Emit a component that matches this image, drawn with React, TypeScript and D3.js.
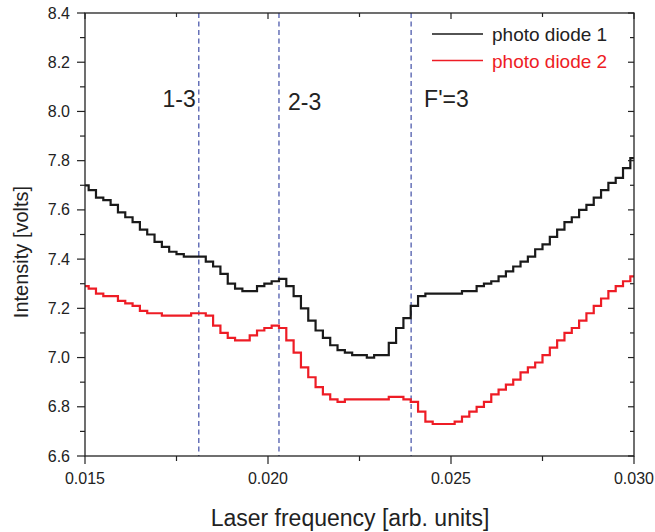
import React from "react";
import * as d3 from "d3";

// Laser frequency samples (arb. units)
const freq = [
  0.0150, 0.0152, 0.0154, 0.0156, 0.0158, 0.0160, 0.0162, 0.0164, 0.0166, 0.0168,
  0.0170, 0.0172, 0.0174, 0.0176, 0.0178, 0.0180, 0.0182, 0.0184, 0.0186, 0.0188,
  0.0190, 0.0192, 0.0194, 0.0196, 0.0198, 0.0200, 0.0202, 0.0204, 0.0206, 0.0208,
  0.0210, 0.0212, 0.0214, 0.0216, 0.0218, 0.0220, 0.0222, 0.0224, 0.0226, 0.0228,
  0.0230, 0.0232, 0.0234, 0.0236, 0.0238, 0.0240, 0.0242, 0.0244, 0.0246, 0.0248,
  0.0250, 0.0252, 0.0254, 0.0256, 0.0258, 0.0260, 0.0262, 0.0264, 0.0266, 0.0268,
  0.0270, 0.0272, 0.0274, 0.0276, 0.0278, 0.0280, 0.0282, 0.0284, 0.0286, 0.0288,
  0.0290, 0.0292, 0.0294, 0.0296, 0.0298, 0.0300,
];

// Photo diode 1 intensity (volts)
const diode1 = [
  7.70, 7.68, 7.65, 7.64, 7.62, 7.59, 7.57, 7.55, 7.52, 7.50,
  7.47, 7.45, 7.43, 7.42, 7.41, 7.41, 7.41, 7.39, 7.37, 7.34,
  7.30, 7.28, 7.27, 7.27, 7.29, 7.30, 7.31, 7.32, 7.29, 7.25,
  7.20, 7.15, 7.11, 7.08, 7.05, 7.03, 7.02, 7.01, 7.01, 7.00,
  7.01, 7.01, 7.06, 7.12, 7.16, 7.21, 7.25, 7.26, 7.26, 7.26,
  7.26, 7.26, 7.27, 7.27, 7.29, 7.30, 7.31, 7.33, 7.35, 7.37,
  7.39, 7.41, 7.44, 7.46, 7.49, 7.52, 7.55, 7.57, 7.60, 7.62,
  7.65, 7.68, 7.71, 7.73, 7.77, 7.81,
];

// Photo diode 2 intensity (volts)
const diode2 = [
  7.29, 7.28, 7.26, 7.25, 7.25, 7.23, 7.22, 7.21, 7.19, 7.18,
  7.18, 7.17, 7.17, 7.17, 7.17, 7.18, 7.18, 7.17, 7.13, 7.10,
  7.08, 7.07, 7.07, 7.09, 7.11, 7.12, 7.13, 7.12, 7.07, 7.02,
  6.96, 6.92, 6.88, 6.85, 6.83, 6.82, 6.83, 6.83, 6.83, 6.83,
  6.83, 6.83, 6.84, 6.84, 6.83, 6.82, 6.78, 6.74, 6.73, 6.73,
  6.73, 6.74, 6.76, 6.78, 6.80, 6.82, 6.85, 6.87, 6.89, 6.91,
  6.94, 6.96, 6.98, 7.01, 7.04, 7.07, 7.10, 7.12, 7.15, 7.18,
  7.21, 7.24, 7.27, 7.29, 7.31, 7.33,
];

// Hyperfine transition markers
const markerFreq = [0.01811, 0.0203, 0.02391];
const markerLabels = ["1-3", "2-3", "F'=3"];

const seriesNames = ["photo diode 1", "photo diode 2"];
const seriesColors = ["#1a1a1a", "#ee1c25"];

const xMajor = [0.015, 0.02, 0.025, 0.03];
const xMinor = [0.0175, 0.0225, 0.0275];
const yMajor = [6.6, 6.8, 7.0, 7.2, 7.4, 7.6, 7.8, 8.0, 8.2, 8.4];
const yMinor = [6.7, 6.9, 7.1, 7.3, 7.5, 7.7, 7.9, 8.1, 8.3];

const W = 655;
const H = 532;
const plot = { left: 85, right: 634, top: 13, bottom: 456 };
const FONT = "'Liberation Sans', Arial, Helvetica, sans-serif";
const AXIS = "#222";

export default function App() {
  const x = d3.scaleLinear().domain([0.015, 0.03]).range([plot.left, plot.right]);
  const y = d3.scaleLinear().domain([6.6, 8.4]).range([plot.bottom, plot.top]);

  const line = d3
    .line<number>()
    .x((_, i) => x(freq[i]))
    .y((d) => y(d))
    .curve(d3.curveStep);

  const series = [diode1, diode2];

  // label offsets relative to each marker line: [dx, baseline y, anchor]
  const labelPos: [number, number, "start" | "end"][] = [
    [-3, 107, "end"],
    [9, 110, "start"],
    [13, 107, "start"],
  ];

  return (
    <svg
      width={W}
      height={H}
      style={{ position: "absolute", left: 0, top: 0, background: "#fff" }}
      fontFamily={FONT}
    >
      <defs>
        <clipPath id="plotClip">
          <rect
            x={plot.left}
            y={plot.top}
            width={plot.right - plot.left}
            height={plot.bottom - plot.top}
          />
        </clipPath>
      </defs>

      {/* marker lines */}
      {markerFreq.map((f, i) => (
        <line
          key={"m" + i}
          x1={x(f)}
          x2={x(f)}
          y1={plot.top}
          y2={plot.bottom}
          stroke="#2e3d9e"
          strokeWidth={1.1}
          strokeDasharray="5,3.5"
        />
      ))}

      {/* data */}
      <g clipPath="url(#plotClip)">
        {series.map((s, i) => (
          <path
            key={"s" + i}
            d={line(s) || ""}
            fill="none"
            stroke={seriesColors[i]}
            strokeWidth={2.2}
            strokeLinejoin="miter"
          />
        ))}
      </g>

      {/* frame */}
      <rect
        x={plot.left}
        y={plot.top}
        width={plot.right - plot.left}
        height={plot.bottom - plot.top}
        fill="none"
        stroke={AXIS}
        strokeWidth={1.3}
      />

      {/* bottom axis ticks (outward) and top ticks (inward) */}
      {xMajor.map((v) => (
        <g key={"xM" + v}>
          <line x1={x(v)} x2={x(v)} y1={plot.bottom} y2={plot.bottom + 8} stroke={AXIS} strokeWidth={1.2} />
          <line x1={x(v)} x2={x(v)} y1={plot.top} y2={plot.top + 6} stroke={AXIS} strokeWidth={1.2} />
          <text x={x(v)} y={484} textAnchor="middle" fontSize={16} fill={AXIS}>
            {d3.format(".3f")(v)}
          </text>
        </g>
      ))}
      {xMinor.map((v) => (
        <g key={"xm" + v}>
          <line x1={x(v)} x2={x(v)} y1={plot.bottom} y2={plot.bottom + 5} stroke={AXIS} strokeWidth={1.2} />
          <line x1={x(v)} x2={x(v)} y1={plot.top} y2={plot.top + 4} stroke={AXIS} strokeWidth={1.2} />
        </g>
      ))}

      {/* left axis ticks (outward) and right ticks (inward) */}
      {yMajor.map((v) => (
        <g key={"yM" + v}>
          <line x1={plot.left - 8} x2={plot.left} y1={y(v)} y2={y(v)} stroke={AXIS} strokeWidth={1.2} />
          <line x1={plot.right - 6} x2={plot.right} y1={y(v)} y2={y(v)} stroke={AXIS} strokeWidth={1.2} />
          <text x={70} y={y(v) + 5.5} textAnchor="end" fontSize={16} fill={AXIS}>
            {d3.format(".1f")(v)}
          </text>
        </g>
      ))}
      {yMinor.map((v) => (
        <g key={"ym" + v}>
          <line x1={plot.left - 5} x2={plot.left} y1={y(v)} y2={y(v)} stroke={AXIS} strokeWidth={1.2} />
          <line x1={plot.right - 4} x2={plot.right} y1={y(v)} y2={y(v)} stroke={AXIS} strokeWidth={1.2} />
        </g>
      ))}

      {/* axis titles */}
      <text x={350} y={526} textAnchor="middle" fontSize={23} fill={AXIS}>
        Laser frequency [arb. units]
      </text>
      <text
        transform="translate(28,252) rotate(-90)"
        textAnchor="middle"
        fontSize={20}
        fill={AXIS}
      >
        Intensity [volts]
      </text>

      {/* marker labels */}
      {markerFreq.map((f, i) => (
        <text
          key={"ml" + i}
          x={x(f) + labelPos[i][0]}
          y={labelPos[i][1]}
          textAnchor={labelPos[i][2]}
          fontSize={23}
          fill={AXIS}
        >
          {markerLabels[i]}
        </text>
      ))}

      {/* legend */}
      {seriesNames.map((name, i) => (
        <g key={"lg" + i}>
          <line
            x1={432}
            x2={483}
            y1={34 + i * 26.5}
            y2={34 + i * 26.5}
            stroke={seriesColors[i]}
            strokeWidth={1.6}
          />
          <text x={492} y={41 + i * 26.5} fontSize={19} fill={i === 0 ? AXIS : seriesColors[i]}>
            {name}
          </text>
        </g>
      ))}
    </svg>
  );
}
